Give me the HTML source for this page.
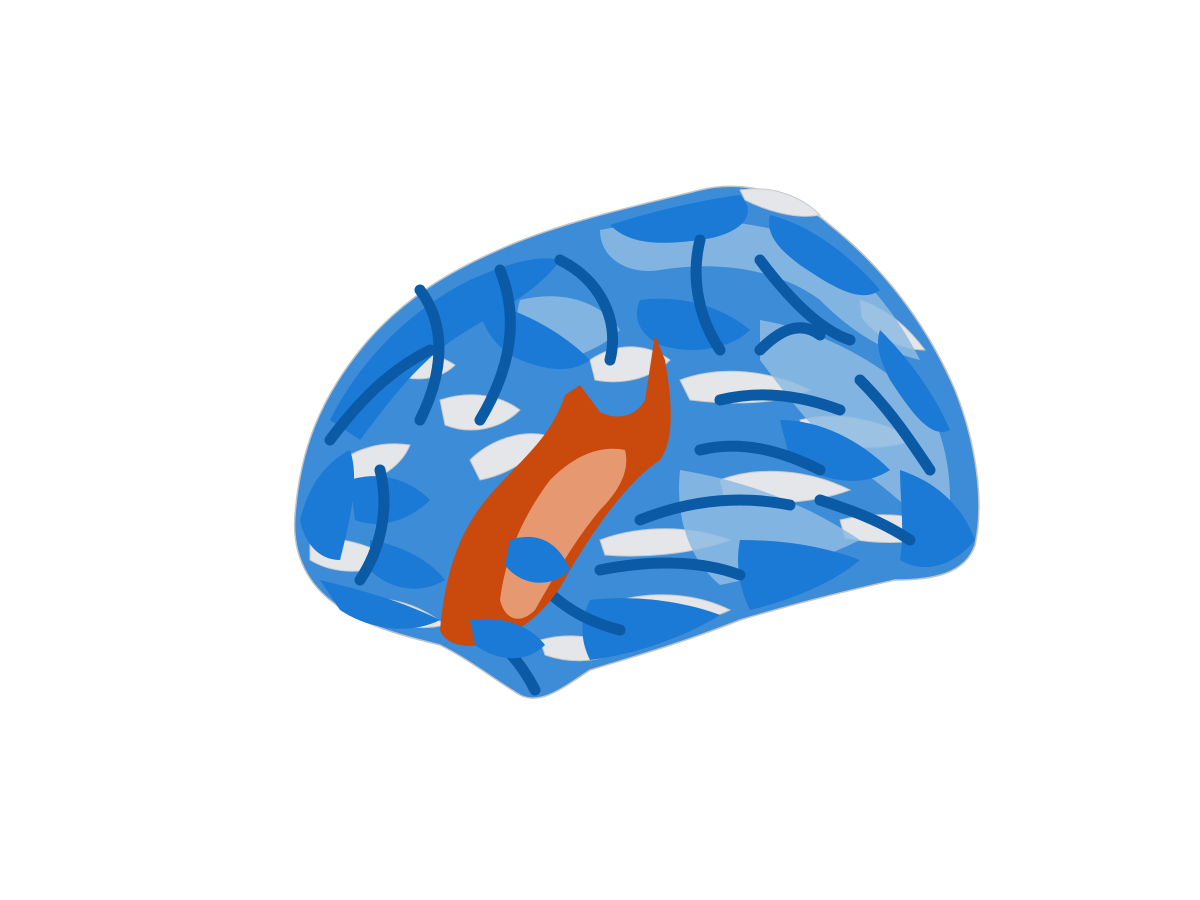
<!DOCTYPE html>
<html>
<head>
<meta charset="utf-8">
<style>
html,body{margin:0;padding:0;background:#fff;}
svg{display:block;}
</style>
</head>
<body>
<svg width="1200" height="900" viewBox="0 0 1200 900">
  <rect x="0" y="0" width="1200" height="900" fill="#ffffff"/>
  <g>
    <path fill="#3d8cd8" stroke="#c0c4c8" stroke-width="1.5"
      d="M295,515 C300,450 320,400 360,350 C400,300 450,270 510,245 C570,220 640,205 700,190 C740,180 790,190 830,225 C880,265 925,320 955,390 C975,440 985,500 975,545 C965,575 930,580 895,580 C850,590 790,605 740,620 C690,640 640,655 590,670 C560,690 540,705 520,695 C495,680 470,660 440,645 C400,635 360,625 330,600 C305,580 292,550 295,515 Z"/>
    <g fill="#e4e6e9" stroke="#c4c7cb" stroke-width="1">
      <path d="M330,470 C350,450 380,440 410,445 C400,470 370,485 340,490 Z"/>
      <path d="M310,540 C340,535 370,545 395,560 C370,575 335,575 310,560 Z"/>
      <path d="M360,600 C390,595 420,605 445,625 C415,632 385,625 360,600 Z"/>
      <path d="M440,400 C470,390 500,395 520,410 C500,430 470,435 445,425 Z"/>
      <path d="M470,460 C490,440 520,430 545,435 C535,460 505,475 480,480 Z"/>
      <path d="M590,360 C620,340 650,345 670,360 C650,380 620,385 595,380 Z"/>
      <path d="M680,380 C720,365 770,370 810,390 C780,405 730,405 690,400 Z"/>
      <path d="M720,480 C760,465 810,470 850,490 C810,505 760,505 725,500 Z"/>
      <path d="M600,540 C640,525 690,525 730,540 C690,555 640,558 605,555 Z"/>
      <path d="M800,420 C840,410 880,420 915,440 C880,452 840,448 805,440 Z"/>
      <path d="M840,520 C880,510 920,515 955,530 C920,545 880,545 845,538 Z"/>
      <path d="M860,300 C890,310 910,330 925,350 C900,350 875,335 862,318 Z"/>
      <path d="M620,600 C660,590 700,595 730,610 C700,625 655,625 625,615 Z"/>
      <path d="M540,640 C570,632 600,636 620,650 C595,665 565,662 545,655 Z"/>
      <path d="M740,190 C770,185 800,195 820,215 C795,220 765,210 745,200 Z"/>
      <path d="M395,360 C420,350 440,355 455,365 C440,380 415,382 398,375 Z"/>
    </g>
    <g fill="#8fbbe3" opacity="0.85">
      <path d="M600,230 C680,215 760,215 830,250 C870,280 900,320 920,360 C880,350 850,330 820,300 C780,270 720,260 660,270 C630,275 600,260 600,230 Z"/>
      <path d="M760,320 C820,330 880,360 930,410 C950,450 955,500 945,540 C920,520 890,490 860,470 C820,440 790,400 760,360 Z"/>
      <path d="M680,470 C740,480 800,500 860,540 C820,560 770,575 720,585 C690,560 675,520 680,470 Z"/>
      <path d="M520,300 C560,290 600,300 620,330 C600,350 570,360 540,365 C520,345 512,325 520,300 Z"/>
    </g>
    <g fill="#1a7ad6">
      <path d="M330,420 C360,360 410,310 470,280 C510,262 540,255 560,260 C540,290 500,310 460,335 C420,360 390,400 360,440 Z"/>
      <path d="M300,520 C310,480 330,460 350,450 C360,480 350,520 340,560 C320,560 305,545 300,520 Z"/>
      <path d="M610,225 C650,212 700,200 740,195 C760,215 740,235 700,240 C660,245 630,245 610,225 Z"/>
      <path d="M770,215 C810,225 850,255 880,290 C860,305 830,285 800,265 C780,250 765,235 770,215 Z"/>
      <path d="M880,330 C910,360 935,395 950,430 C930,440 910,410 890,380 C880,360 875,345 880,330 Z"/>
      <path d="M900,470 C930,480 960,500 975,540 C955,565 925,575 900,560 C905,530 900,500 900,470 Z"/>
      <path d="M740,540 C780,540 820,545 860,560 C830,585 790,600 750,610 C740,590 735,565 740,540 Z"/>
      <path d="M590,600 C630,595 680,600 720,615 C680,640 630,655 590,660 C580,640 580,620 590,600 Z"/>
      <path d="M320,580 C360,590 400,600 440,620 C410,635 370,630 340,610 Z"/>
      <path d="M480,300 C520,310 560,330 590,360 C570,375 540,370 510,355 C490,340 478,320 480,300 Z"/>
      <path d="M640,300 C680,295 720,305 750,330 C730,350 690,355 660,345 C640,335 632,318 640,300 Z"/>
      <path d="M780,420 C820,420 860,440 890,470 C860,490 820,480 790,460 Z"/>
      <path d="M350,480 C380,470 410,480 430,500 C410,520 380,530 355,520 Z"/>
      <path d="M370,540 C400,545 430,560 445,580 C420,595 390,590 370,570 Z"/>
    </g>
    <g fill="none" stroke="#0b5aa6" stroke-width="11" stroke-linecap="round">
      <path d="M330,440 C360,400 390,370 430,350"/>
      <path d="M420,290 C450,330 440,380 420,420"/>
      <path d="M500,270 C520,320 510,370 480,420"/>
      <path d="M560,260 C600,280 620,320 610,360"/>
      <path d="M700,240 C690,280 700,320 720,350"/>
      <path d="M760,260 C790,300 820,330 850,340"/>
      <path d="M720,400 C760,390 800,395 840,410"/>
      <path d="M700,450 C740,440 780,450 820,470"/>
      <path d="M640,520 C690,500 740,495 790,505"/>
      <path d="M600,570 C650,560 700,560 740,575"/>
      <path d="M520,560 C550,600 580,620 620,630"/>
      <path d="M380,470 C390,510 380,550 360,580"/>
      <path d="M860,380 C890,410 910,440 930,470"/>
      <path d="M820,500 C850,510 880,520 910,540"/>
      <path d="M470,620 C500,640 520,660 535,690"/>
      <path d="M760,350 C780,330 800,320 820,335"/>
    </g>
    <g>
      <path fill="#c94a0c"
        d="M440,630 C445,580 455,535 490,495 C520,460 550,440 565,395 L580,385 L600,412 C615,420 635,418 645,400 L655,335 L665,360 C672,400 675,440 660,460 C630,480 600,520 570,570 C550,610 520,635 480,645 C460,648 445,643 440,630 Z"/>
      <path fill="#e9a27c" opacity="0.9"
        d="M500,600 C505,560 520,520 550,480 C575,455 600,445 625,450 C630,470 620,490 600,510 C575,540 555,575 535,610 C520,625 505,620 500,600 Z"/>
    </g>
    <g fill="#1a7ad6">
      <path d="M470,620 C500,615 530,625 545,645 C525,665 495,660 475,645 Z"/>
      <path d="M510,540 C540,530 560,545 570,570 C550,590 520,585 505,565 Z"/>
    </g>
  </g>
</svg>
</body>
</html>
